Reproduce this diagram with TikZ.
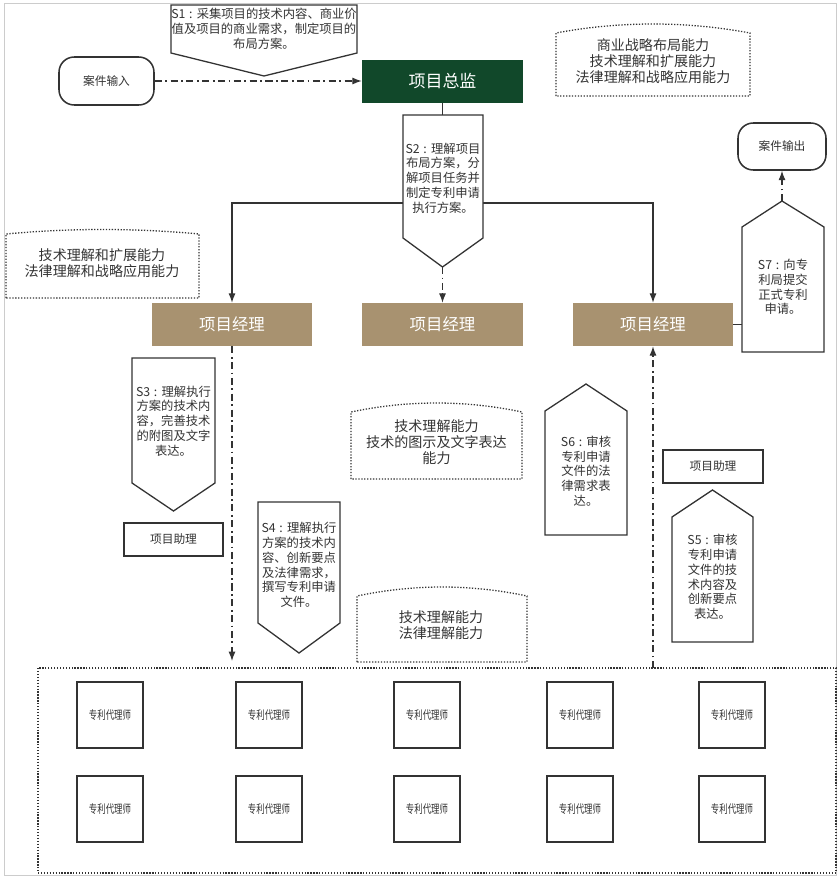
\documentclass[tikz,border=0pt]{standalone}
\usepackage{fontspec}
\setmainfont{Noto Sans CJK SC}
\newfontfamily\agentfont[FakeStretch=0.72]{Noto Sans CJK SC}
\usetikzlibrary{arrows.meta}
\tikzset{>={Latex[length=8pt,width=6pt]}}
\colorlet{ink}{black!80}
\definecolor{leadgreen}{RGB}{17,72,42}
\definecolor{pmtan}{RGB}{168,146,112}
\newcommand\stepno[1]{S#1\kern.3em:\kern.35em}
\tikzset{
  pxbox/.style 2 args={minimum width=#1*0.03cm, minimum height=#2*0.03cm, inner sep=0pt},
  plain/.style={draw=ink, line width=1.3pt, fill=white, text=ink, font=\fontsize{10}{12}\selectfont},
  agent/.style={plain, pxbox={66}{66}, font=\agentfont\fontsize{10}{12}\selectfont},
  terminal/.style={plain, rounded corners=13pt},
  lead/.style={fill=leadgreen, text=white, font=\fontsize{14.5}{16}\selectfont},
  manager/.style={fill=pmtan, text=white, font=\fontsize{14}{16}\selectfont},
  stepbox/.style={draw=ink, line width=1.1pt, fill=white, line join=miter},
  steptext/.style={align=center, text=ink, inner sep=0pt, font=\fontsize{10.5}{12.6}\selectfont},
  skill/.style={draw=ink, line width=1.1pt, dash pattern=on 1.1pt off 1.4pt},
  skilltext/.style={align=center, text=ink, inner sep=0pt, font=\fontsize{12}{13.8}\selectfont},
  link/.style={draw=ink, line width=1pt},
  flow/.style={link, dash pattern=on 6pt off 3pt on 1.5pt off 3pt},
}

\begin{document}
\begin{tikzpicture}[x=0.03cm, y=-0.03cm]
  \useasboundingbox (0,0) rectangle (838,896);
  % frame
  \draw[gray!40, line width=0.6pt] (4,3) rectangle (836,875);
  % team of agents
  \draw[skill] (38,668) rectangle (836,873);
  \foreach \x [count=\i] in {110,269,427,580,732} {
    \node[agent] (a\i-1) at (\x,715) {专利代理师};
    \node[agent] (a\i-2) at (\x,809) {专利代理师};
  }
  % input, director, output
  \node[terminal, pxbox={95}{48}] (in) at (106.5,81) {案件输入};
  \node[lead, pxbox={161}{43}] (boss) at (442.5,81) {项目总监};
  \node[terminal, pxbox={88}{47}] (out) at (782,146.5) {案件输出};
  % managers
  \node[manager, pxbox={160}{43}] (pm1) at (232,324.5) {项目经理};
  \node[manager, pxbox={161}{43}] (pm2) at (442.5,324.5) {项目经理};
  \node[manager, pxbox={160}{43}] (pm3) at (653,324.5) {项目经理};
  % assistants
  \node[plain, pxbox={99}{33}] (asst1) at (173.5,539.5) {项目助理};
  \node[plain, pxbox={100}{33}] (asst2) at (713,466.5) {项目助理};

  \coordinate (s2top) at (442.5,115);
  \coordinate (split) at (442.5,203);
  \coordinate (s2tip) at (442.5,267);
  \coordinate (drop1) at (232,661);
  \coordinate (rise3) at (653,668);
  \coordinate (s7left) at (742,324.5);
  \coordinate (s7tip) at (782,201);

  % connectors
  \draw[flow,->] (in) -- (boss);
  \draw[link] (boss) -- (s2top);
  \draw[link,->] (split) -| (pm1);
  \draw[link,->] (split) -| (pm3);
  \draw[flow,->] (s2tip) -- (pm2);
  \draw[flow,->] (pm1) -- (drop1);
  \draw[flow,->] (rise3) -- (pm3);
  \draw[link] (pm3) -- (s7left);
  \draw[flow,->] (s7tip) -- (out);

  % steps
  \draw[stepbox] (171,5) -- (357,5) -- (357,53) -- (264,76) -- (171,53) -- cycle;
  \node[steptext] (s1) at (264,29) {\stepno{1}采集项目的技术内容、商业价\\值及项目的商业需求，制定项目的\\布局方案。};
  \draw[stepbox] (403,115) -- (483,115) -- (483,238) -- (s2tip) -- (403,238) -- cycle;
  \node[steptext] (s2) at (443,178) {\stepno{2}理解项目\\布局方案，分\\解项目任务并\\制定专利申请\\执行方案。};
  \draw[stepbox] (132,358) -- (215,358) -- (215,483) -- (173.5,511) -- (132,483) -- cycle;
  \node[steptext] (s3) at (173.5,421) {\stepno{3}理解执行\\方案的技术内\\容，完善技术\\的附图及文字\\表达。};
  \draw[stepbox] (258,502) -- (340,502) -- (340,623) -- (299,653) -- (258,623) -- cycle;
  \node[steptext] (s4) at (299,565) {\stepno{4}理解执行\\方案的技术内\\容、创新要点\\及法律需求，\\撰写专利申请\\文件。};
  \draw[stepbox] (545,535) -- (545,411) -- (586,384) -- (627,411) -- (627,535) -- cycle;
  \node[steptext] (s6) at (586,471) {\stepno{6}审核\\专利申请\\文件的法\\律需求表\\达。};
  \draw[stepbox] (672,642) -- (672,517) -- (712.5,490) -- (753,517) -- (753,642) -- cycle;
  \node[steptext] (s5) at (712.5,577) {\stepno{5}审核\\专利申请\\文件的技\\术内容及\\创新要点\\表达。};
  \draw[stepbox] (742,352) -- (742,227) -- (s7tip) -- (824,227) -- (824,352) -- cycle;
  \node[steptext] (s7) at (783,287) {\stepno{7}向专\\利局提交\\正式专利\\申请。};

  % skills
  \draw[skill] (556,96) -- (556,33) .. controls (620,21) and (686,21) .. (750,33) -- (750,96) -- cycle;
  \node[skilltext] (k1) at (653,61) {商业战略布局能力\\技术理解和扩展能力\\法律理解和战略应用能力};
  \draw[skill] (6,298) -- (6,234) .. controls (70,228) and (135,228) .. (199,234) -- (199,298) -- cycle;
  \node[skilltext] (k2) at (102,263) {技术理解和扩展能力\\法律理解和战略应用能力};
  \draw[skill] (351,479) -- (351,412) .. controls (408,400) and (465,400) .. (522,412) -- (522,479) -- cycle;
  \node[skilltext] (k3) at (436.5,442) {技术理解能力\\技术的图示及文字表达\\能力};
  \draw[skill] (357,662) -- (357,596) .. controls (414,584) and (470,584) .. (527,596) -- (527,662) -- cycle;
  \node[skilltext] (k4) at (441,625) {技术理解能力\\法律理解能力};
\end{tikzpicture}
\end{document}
